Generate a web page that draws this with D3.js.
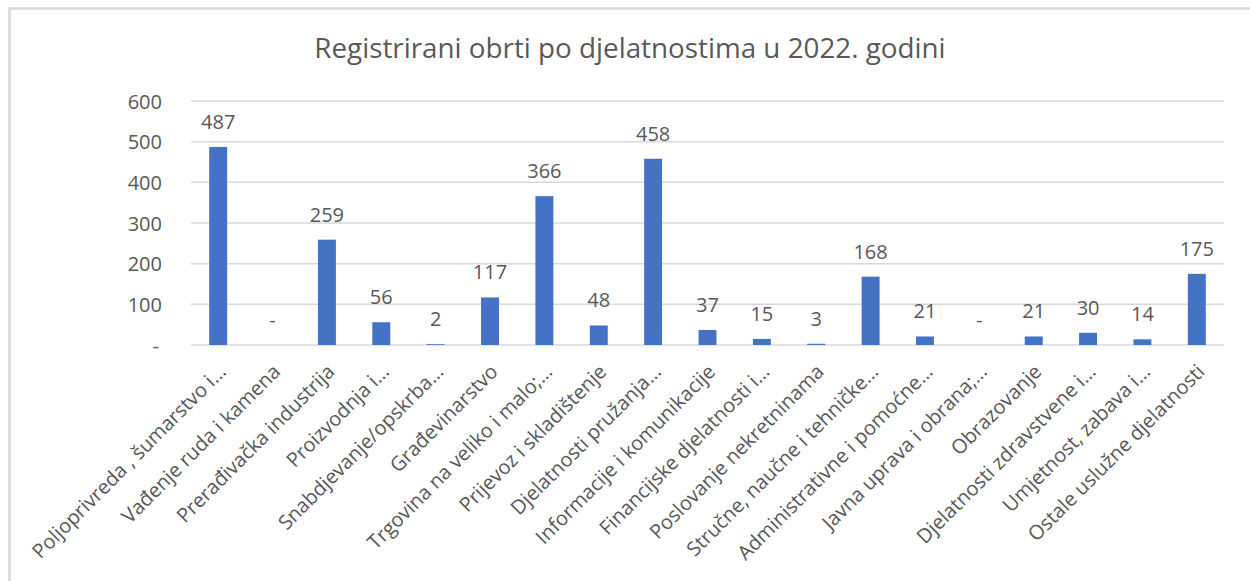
<!DOCTYPE html>
<html>
<head>
<meta charset="utf-8">
<script src="https://cdn.jsdelivr.net/npm/d3@7"></script>
<style>
  body { margin: 0; background: #fff; }
  text { font-family: "Open Sans", "Noto Sans", sans-serif; fill: #595959; }
</style>
</head>
<body>
<div id="grafica"></div>
<script>
// --- podaci
const kategorije = [
  "Poljoprivreda , šumarstvo i…",
  "Vađenje ruda i kamena",
  "Prerađivačka industrija",
  "Proizvodnja i…",
  "Snabdjevanje/opskrba…",
  "Građevinarstvo",
  "Trgovina na veliko i malo;…",
  "Prijevoz i skladištenje",
  "Djelatnosti pružanja…",
  "Informacije i komunikacije",
  "Financijske djelatnosti i…",
  "Poslovanje nekretninama",
  "Stručne, naučne i tehničke…",
  "Administrativne i pomoćne…",
  "Javna uprava i obrana;…",
  "Obrazovanje",
  "Djelatnosti zdravstvene i…",
  "Umjetnost, zabava i…",
  "Ostale uslužne djelatnosti"
];
const obrti = [487, 0, 259, 56, 2, 117, 366, 48, 458, 37, 15, 3, 168, 21, 0, 21, 30, 14, 175];
const yTicks = [0, 100, 200, 300, 400, 500, 600];
const naslov = "Registrirani obrti po djelatnostima u 2022. godini";

const widthApp = 1250, heightApp = 581;
const fmt = (v) => v === 0 ? "-" : String(v);

const svg = d3.select("#grafica")
  .append("svg")
  .attr("width", widthApp)
  .attr("height", heightApp);

// okvir grafikona
svg.append("rect")
  .attr("x", 9.5).attr("y", 8.5)
  .attr("width", 1250).attr("height", 600)
  .attr("fill", "#fff")
  .attr("stroke", "#d9d9d9")
  .attr("stroke-width", 2.5);

svg.append("text")
  .attr("x", 630).attr("y", 58)
  .attr("text-anchor", "middle")
  .style("font-size", "27.8px")
  .text(naslov);

const x = d3.scaleBand()
  .domain(kategorije)
  .range([191, 1224])
  .paddingInner(0.67)
  .paddingOuter(0.335);

const y = d3.scaleLinear()
  .domain([0, 600])
  .range([345, 101]);

// mreza
svg.append("g")
  .selectAll("line")
  .data(yTicks)
  .enter()
  .append("line")
  .attr("x1", 191).attr("x2", 1224)
  .attr("y1", (d) => y(d)).attr("y2", (d) => y(d))
  .attr("stroke", "#d9d9d9")
  .attr("stroke-width", 1.5);

// y os
svg.append("g")
  .selectAll("text")
  .data(yTicks)
  .enter()
  .append("text")
  .attr("x", (d) => d === 0 ? 159 : 162)
  .attr("y", (d) => y(d) + 7.5)
  .attr("text-anchor", "end")
  .style("font-size", "20px")
  .text(fmt);

// stupci
svg.append("g")
  .selectAll("rect")
  .data(obrti)
  .enter()
  .append("rect")
  .attr("x", (d, i) => x(kategorije[i]))
  .attr("width", x.bandwidth())
  .attr("y", (d) => y(d))
  .attr("height", (d) => y(0) - y(d))
  .attr("fill", "#4472c4");

// oznake vrijednosti
svg.append("g")
  .selectAll("text")
  .data(obrti)
  .enter()
  .append("text")
  .attr("x", (d, i) => x(kategorije[i]) + x.bandwidth() / 2)
  .attr("y", (d) => y(d) - 18)
  .attr("text-anchor", "middle")
  .style("font-size", "20px")
  .text(fmt);

// x os - kategorije
svg.append("g")
  .selectAll("text")
  .data(kategorije)
  .enter()
  .append("text")
  .attr("transform", (d) => `translate(${x(d) + x.bandwidth() / 2 + 9},${373}) rotate(-45)`)
  .attr("text-anchor", "end")
  .style("font-size", "20px")
  .text((d) => d);
</script>
</body>
</html>
